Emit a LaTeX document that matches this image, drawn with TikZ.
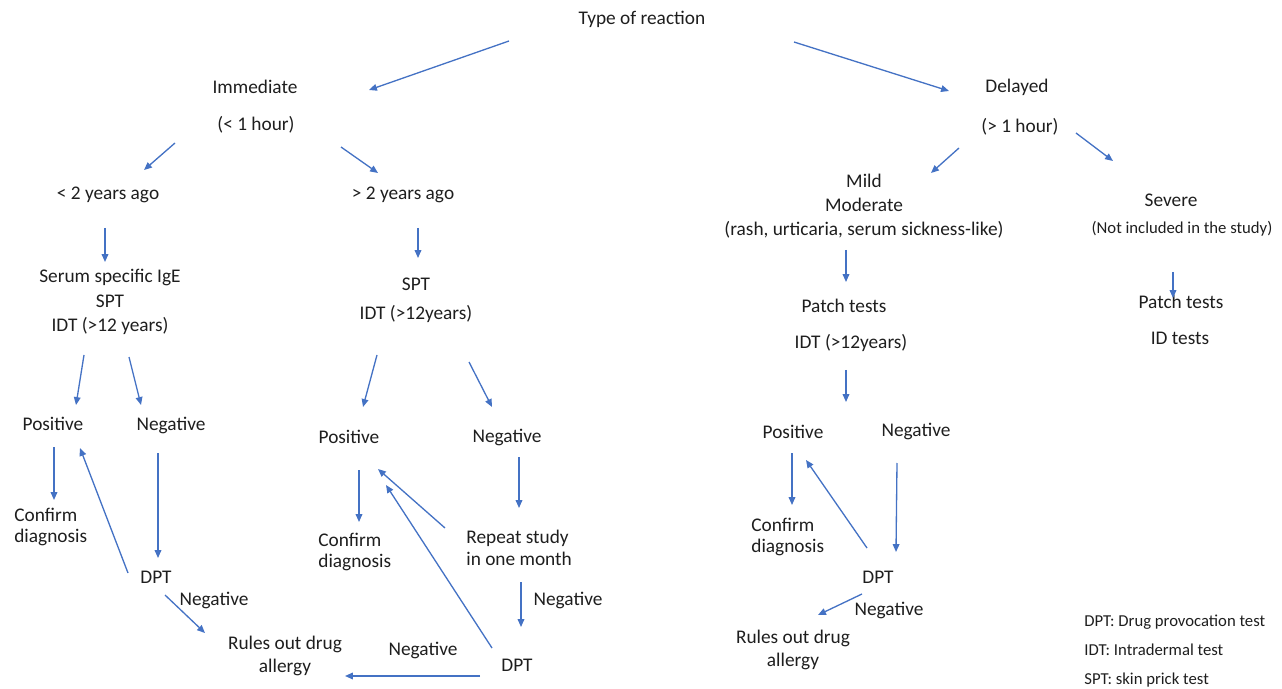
\documentclass[tikz,border=0pt]{standalone}
\usepackage{fontspec}
\setmainfont{Carlito}
\usetikzlibrary{arrows.meta}
\definecolor{arrowblue}{HTML}{4472C4}
\definecolor{inkgray}{HTML}{1E1E1E}
\tikzset{
  lbl/.style={font=\fontsize{11}{13}\selectfont, text=inkgray, inner sep=0pt},
  small/.style={font=\fontsize{9.5}{11}\selectfont, text=inkgray, inner sep=0pt},
  arr/.style={draw=arrowblue, line width=0.75pt, -{Triangle[length=4.5pt,width=3.8pt]}},
}

\begin{document}
\begin{tikzpicture}[x=0.02cm, y=-0.02cm]
  \useasboundingbox (0,0) rectangle (1282,689);

  % top level
  \node[lbl] (type) at (642,19) {Type of reaction};
  \node[lbl] (imm)  at (255,87) {Immediate};
  \node[lbl] (immh) at (256,125) {(< 1 hour)};
  \node[lbl] (del)  at (1017,87) {Delayed};
  \node[lbl] (delh) at (1020,127) {(> 1 hour)};

  % immediate branch
  \node[lbl] (lt2) at (108,195) {< 2 years ago};
  \node[lbl] (gt2) at (403,195) {> 2 years ago};
  \node[lbl, align=center, font=\fontsize{11}{14}\selectfont] (ige) at (110,302)
    {Serum specific IgE\\SPT\\IDT (>12 years)};
  \node[lbl, align=center, font=\fontsize{11}{16.5}\selectfont] (spt) at (416,300)
    {SPT\\IDT (>12years)};

  \node[lbl] (pos1) at (53,424) {Positive};
  \node[lbl] (neg1) at (171,425) {Negative};
  \node[lbl, align=left, anchor=west, font=\fontsize{11}{12}\selectfont] (conf1) at (14,527)
    {Confirm\\diagnosis};
  \node[lbl] (dpt1) at (156,577) {DPT};
  \node[lbl] (neg1b) at (214,600) {Negative};
  \node[lbl, align=center] (rule1) at (285,656) {Rules out drug\\allergy};

  \node[lbl] (pos2) at (349,437) {Positive};
  \node[lbl] (neg2) at (507,437) {Negative};
  \node[lbl, align=left, anchor=west, font=\fontsize{11}{12}\selectfont] (conf2) at (318,552)
    {Confirm\\diagnosis};
  \node[lbl, align=left, anchor=west, font=\fontsize{11}{12.5}\selectfont] (rep) at (466,548)
    {Repeat study\\in one month};
  \node[lbl] (neg2b) at (568,600) {Negative};
  \node[lbl] (dpt2) at (517,665) {DPT};
  \node[lbl] (neg2c) at (423,650) {Negative};

  % delayed branch
  \node[lbl, align=center, font=\fontsize{11}{13.7}\selectfont] (mild) at (864,206)
    {Mild\\Moderate\\(rash, urticaria, serum sickness-like)};
  \node[lbl] (sev) at (1171,200) {Severe};
  \node[small] (sevn) at (1182,229) {(Not included in the study)};
  \node[lbl] (patch) at (844,306) {Patch tests};
  \node[lbl] (idt3) at (851,343) {IDT (>12years)};
  \node[lbl] (sevp) at (1181,302) {Patch tests};
  \node[lbl] (idtest) at (1180,338) {ID tests};

  \node[lbl] (pos3) at (793,432) {Positive};
  \node[lbl] (neg3) at (916,431) {Negative};
  \node[lbl, align=left, anchor=west, font=\fontsize{11}{12}\selectfont] (conf3) at (751,537)
    {Confirm\\diagnosis};
  \node[lbl] (dpt3) at (878,577) {DPT};
  \node[lbl] (neg3b) at (889,610) {Negative};
  \node[lbl, align=center] (rule3) at (793,650) {Rules out drug\\allergy};

  % key
  \node[small, anchor=west] (key1) at (1084,622) {DPT: Drug provocation test};
  \node[small, anchor=west] (key2) at (1084,650) {IDT: Intradermal test};
  \node[small, anchor=west] (key3) at (1084,680) {SPT: skin prick test};

  % arrows, immediate side
  \draw[arr] ([shift={(-133,22)}]type.center) -- ([shift={(114,3)}]imm.center);
  \draw[arr] ([shift={(-81,18)}]immh.center) -- ([shift={(36,-25)}]lt2.center);
  \draw[arr] ([shift={(85,22)}]immh.center) -- ([shift={(-25,-22)}]gt2.center);
  \draw[arr] ([shift={(-3,33)}]lt2.center) -- ([shift={(-5,-40)}]ige.center);
  \draw[arr] ([shift={(15,33)}]gt2.center) -- ([shift={(2,-42)}]spt.center);
  \draw[arr] ([shift={(-26,53)}]ige.center) -- ([shift={(23,-19)}]pos1.center);
  \draw[arr] ([shift={(19,55)}]ige.center) -- ([shift={(-30,-20)}]neg1.center);
  \draw[arr] ([shift={(1,23)}]pos1.center) -- ([shift={(40,-27)}]conf1.west);
  \draw[arr] ([shift={(-13,28)}]neg1.center) -- ([shift={(2,-19)}]dpt1.center);
  \draw[arr] ([shift={(-28,-4)}]dpt1.center) -- ([shift={(27,24)}]pos1.center);
  \draw[arr] ([shift={(9,18)}]dpt1.center) -- ([shift={(-80,-23)}]rule1.center);
  \draw[arr] ([shift={(-39,55)}]spt.center) -- ([shift={(14,-30)}]pos2.center);
  \draw[arr] ([shift={(53,62)}]spt.center) -- ([shift={(-15,-30)}]neg2.center);
  \draw[arr] ([shift={(10,33)}]pos2.center) -- ([shift={(41,-30)}]conf2.west);
  \draw[arr] ([shift={(12,20)}]neg2.center) -- ([shift={(53,-40)}]rep.west);
  \draw[arr] ([shift={(-21,-20)}]rep.west) -- ([shift={(29,32)}]pos2.center);
  \draw[arr] ([shift={(55,34)}]rep.west) -- ([shift={(4,-38)}]dpt2.center);
  \draw[arr] ([shift={(-25,-17)}]dpt2.center) -- ([shift={(37,48)}]pos2.center);
  \draw[arr] ([shift={(-37,11)}]dpt2.center) -- ([shift={(60,20)}]rule1.center);

  % arrows, delayed side
  \draw[arr] ([shift={(152,23)}]type.center) -- ([shift={(-68,4)}]del.center);
  \draw[arr] ([shift={(-61,21)}]delh.center) -- ([shift={(67,-33)}]mild.center);
  \draw[arr] ([shift={(56,6)}]delh.center) -- ([shift={(-58,-39)}]sev.center);
  \draw[arr] ([shift={(-18,44)}]mild.center) -- ([shift={(2,-24)}]patch.center);
  \draw[arr] ([shift={(-9,43)}]sevn.center) -- ([shift={(-8,-4)}]sevp.center);
  \draw[arr] ([shift={(-5,27)}]idt3.center) -- ([shift={(53,-30)}]pos3.center);
  \draw[arr] ([shift={(-1,21)}]pos3.center) -- ([shift={(41,-32)}]conf3.west);
  \draw[arr] ([shift={(-19,32)}]neg3.center) -- ([shift={(18,-25)}]dpt3.center);
  \draw[arr] ([shift={(-11,-29)}]dpt3.center) -- ([shift={(13,28)}]pos3.center);
  \draw[arr] ([shift={(-16,17)}]dpt3.center) -- ([shift={(25,-35)}]rule3.center);
\end{tikzpicture}
\end{document}
